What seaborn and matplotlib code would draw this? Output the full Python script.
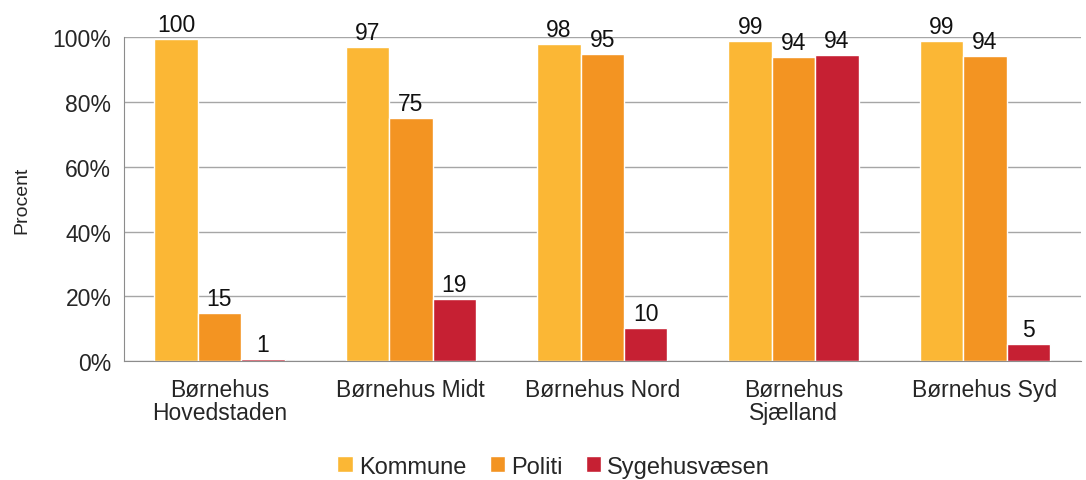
import pandas as pd
import seaborn as sns
import matplotlib.pyplot as plt
from matplotlib.ticker import FuncFormatter, FixedLocator

# Data
centre = ['Børnehus\nHovedstaden', 'Børnehus Midt', 'Børnehus Nord', 'Børnehus\nSjælland', 'Børnehus Syd']
kommune = [99.5, 96.9, 97.8, 98.8, 98.8]
politi = [14.8, 75.0, 94.8, 93.8, 94.1]
sygehus = [0.8, 19.1, 10.2, 94.4, 5.4]
series = ['Kommune', 'Politi', 'Sygehusvæsen']
colors = ['#FBB735', '#F39422', '#C62033']

df = pd.DataFrame({'centre': centre, 'Kommune': kommune, 'Politi': politi, 'Sygehusvæsen': sygehus})
long = df.melt(id_vars='centre', var_name='kilde', value_name='pct')

sns.set_style('white')
plt.rcParams['font.family'] = ['Liberation Sans', 'DejaVu Sans']
plt.rcParams['font.size'] = 16.5

fig, ax = plt.subplots(figsize=(10.86, 4.81), dpi=100)
fig.subplots_adjust(left=0.114, right=0.995, top=0.921, bottom=0.247)

sns.barplot(data=long, x='centre', y='pct', hue='kilde', hue_order=series,
            palette=colors, width=0.68, gap=0, saturation=1, ax=ax)

for cont in ax.containers:
    ax.bar_label(cont, fmt='%.0f', padding=2, fontsize=16.5, color='#111111')

ax.set_ylim(0, 100)
ax.set_xlim(-0.5, 4.5)
ax.set_yticks([0, 20, 40, 60, 80, 100])
ax.yaxis.set_major_formatter(FuncFormatter(lambda v, p: f'{v:.0f}%'))
ax.grid(axis='y', color='#a6a6a6', linewidth=1)
ax.set_axisbelow(True)
for s in ['top', 'right']:
    ax.spines[s].set_visible(False)
for s in ['left', 'bottom']:
    ax.spines[s].set_color('#8c8c8c')
ax.tick_params(axis='y', length=6, color='#8c8c8c', pad=3, labelsize=16.5)
ax.tick_params(axis='x', which='major', length=0, pad=12, labelsize=16.5)
ax.xaxis.set_minor_locator(FixedLocator([-0.5, 0.5, 1.5, 2.5, 3.5, 4.5]))
ax.tick_params(axis='x', which='minor', length=6, color='#8c8c8c')
for lab in ax.get_xticklabels():
    lab.set_linespacing(1.0)
ax.set_xlabel('')
ax.set_ylabel('Procent', fontsize=14, labelpad=16)

ax.legend_.remove()
handles, labels = ax.get_legend_handles_labels()
fig.legend(handles, labels, loc='center', bbox_to_anchor=(0.51, 0.028), ncol=3, frameon=False,
           handlelength=0.65, handleheight=0.65, handletextpad=0.25, columnspacing=1.0,
           fontsize=17)

plt.savefig('out.png', dpi=100)
